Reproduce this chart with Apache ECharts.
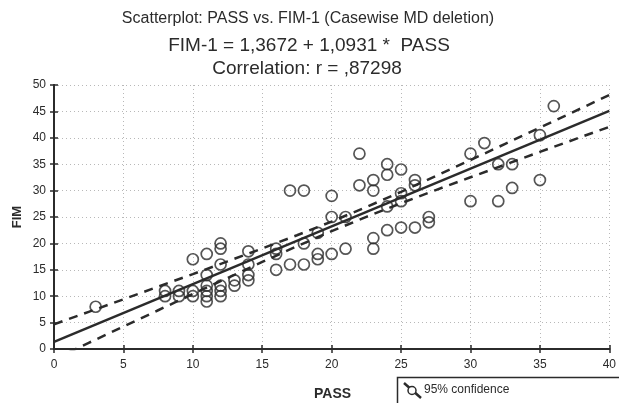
<!DOCTYPE html>
<html>
<head>
<meta charset="utf-8">
<script src="https://cdn.jsdelivr.net/npm/echarts@6/dist/echarts.min.js"></script>
<style>
html,body{margin:0;padding:0;background:#fff;}
#chart{width:619px;height:403px;}
</style>
</head>
<body>
<div id="chart"></div>
<script>
// PASS (x) values of the cases
const passValues = [3, 8, 8, 9, 9, 10, 10, 10, 11, 11, 11, 11, 11, 11, 12, 12, 12, 12, 12, 12,
  13, 13, 14, 14, 14, 14, 16, 16, 16, 17, 17, 18, 18, 18, 19, 19, 19, 20, 20, 20,
  21, 21, 22, 22, 23, 23, 23, 23, 24, 24, 24, 24, 25, 25, 25, 25, 26, 26, 26, 27, 27,
  30, 30, 31, 32, 32, 33, 33, 35, 35, 36];
// FIM (y) values of the cases
const fimValues = [8, 11, 10, 10, 11, 17, 11, 10, 18, 14, 12, 11, 10, 9, 20, 19, 16, 12, 11, 10,
  13, 12, 18.5, 16, 14, 13, 19, 18, 15, 30, 16, 30, 20, 16, 22, 18, 17, 29, 25, 18,
  25, 19, 37, 31, 32, 30, 21, 19, 35, 33, 27, 22.5, 34, 29.5, 28, 23, 32, 31, 23, 25, 24,
  37, 28, 39, 35, 28, 35, 30.5, 40.5, 32, 46];
// regression coefficients (from title)
const regIntercept = 1.3672;
const regSlope = 1.0931;
const regX = [0, 40];
// 95% confidence band
const bandX = [0, 2.5, 5, 7.5, 10, 12.5, 15, 17.5, 20, 22.5, 25, 27.5, 30, 32.5, 35, 37.5, 40];
const upperBand = [4.67, 7.04, 9.41, 11.80, 14.19, 16.60, 19.04, 21.54, 24.14, 26.89, 29.77, 32.76, 35.79, 38.85, 41.93, 45.01, 48.10];
const lowerBand = [-1.93, 1.16, 4.25, 7.34, 10.41, 13.46, 16.48, 19.46, 22.32, 25.03, 27.61, 30.10, 32.53, 34.93, 37.33, 39.71, 42.08];
// axis ticks
const xTicks = [0, 5, 10, 15, 20, 25, 30, 35, 40];
const yTicks = [0, 5, 10, 15, 20, 25, 30, 35, 40, 45, 50];

const titleLines = [
  'Scatterplot: PASS vs. FIM-1 (Casewise MD deletion)',
  'FIM-1 = 1,3672 + 1,0931 *  PASS',
  'Correlation: r = ,87298'
];

const font = 'Arial, "Liberation Sans", sans-serif';
const ink = '#2b2b2b';

const chart = echarts.init(document.getElementById('chart'), null, {renderer: 'canvas'});

const scatterData = passValues.map((x, i) => [x, fimValues[i]]);
const regData = regX.map(x => [x, regIntercept + regSlope * x]);
const upperData = bandX.map((x, i) => [x, upperBand[i]]);
const lowerData = bandX.map((x, i) => [x, lowerBand[i]]);

const grid = {left: 54, right: 7, top: 85, bottom: 54};
const xMin = xTicks[0], xMax = xTicks[xTicks.length - 1];
const yMin = yTicks[0], yMax = yTicks[yTicks.length - 1];

const baseAxis = {
  axisLine: {show: true, lineStyle: {color: ink, width: 2}},
  axisTick: {show: true, inside: true, length: 4, lineStyle: {color: ink, width: 1.5}},
  splitLine: {show: false}
};

chart.setOption({
  backgroundColor: '#ffffff',
  animation: false,
  title: [
    {text: titleLines[0], left: 303, top: 6, textAlign: 'center',
      textStyle: {fontFamily: font, fontSize: 16, fontWeight: 'normal', color: ink}},
    {text: titleLines[1], left: 304, top: 31, textAlign: 'center',
      textStyle: {fontFamily: font, fontSize: 19, fontWeight: 'normal', color: ink}},
    {text: titleLines[2], left: 302, top: 54, textAlign: 'center',
      textStyle: {fontFamily: font, fontSize: 19, fontWeight: 'normal', color: ink}}
  ],
  grid: grid,
  xAxis: [
    Object.assign({}, baseAxis, {
      type: 'value', position: 'bottom', min: xMin, max: xMax, interval: 5,
      axisLabel: {fontFamily: font, fontSize: 12, color: ink, margin: 10},
      splitLine: {show: true, lineStyle: {color: '#b8b8b8', type: [1, 3], width: 1}}
    }),
    Object.assign({}, baseAxis, {
      type: 'value', position: 'top', min: xMin, max: xMax, interval: 5,
      axisLabel: {show: false}
    })
  ],
  yAxis: [
    Object.assign({}, baseAxis, {
      type: 'value', position: 'left', min: yMin, max: yMax, interval: 5,
      axisLabel: {fontFamily: font, fontSize: 12, color: ink, margin: 8},
      splitLine: {show: true, lineStyle: {color: '#b8b8b8', type: [1, 3], width: 1}}
    }),
    Object.assign({}, baseAxis, {
      type: 'value', position: 'right', min: yMin, max: yMax, interval: 5,
      axisLabel: {show: false}
    })
  ],
  graphic: [
    {type: 'text', left: 314, top: 387,
      style: {text: 'PASS', font: 'bold 14px ' + font, fill: ink}},
    {type: 'text', x: 17, y: 217, rotation: Math.PI / 2,
      style: {text: 'FIM', font: 'bold 13px ' + font, fill: ink, align: 'center', verticalAlign: 'middle'}},
    {type: 'rect', shape: {x: 397.5, y: 377.5, width: 240, height: 40},
      style: {fill: '#fff', stroke: ink, lineWidth: 1.5}},
    {type: 'line', shape: {x1: 404, y1: 383, x2: 421, y2: 398},
      style: {stroke: ink, lineWidth: 2.5}},
    {type: 'circle', shape: {cx: 412, cy: 390.5, r: 4},
      style: {fill: '#fff', stroke: ink, lineWidth: 1.5}},
    {type: 'text', left: 424, top: 384,
      style: {text: '95% confidence', font: '12px ' + font, fill: ink}}
  ],
  series: [
    {type: 'line', data: upperData, smooth: false, symbol: 'none', clip: true,
      lineStyle: {color: ink, width: 2.5, type: [9, 7]}, z: 3},
    {type: 'line', data: lowerData, smooth: false, symbol: 'none', clip: true,
      lineStyle: {color: ink, width: 2.5, type: [9, 7]}, z: 3},
    {type: 'line', data: regData, symbol: 'none', clip: true,
      lineStyle: {color: ink, width: 2.5}, z: 4},
    {type: 'scatter', data: scatterData, symbol: 'circle', symbolSize: 11,
      itemStyle: {color: 'rgba(255,255,255,0)', borderColor: ink, borderWidth: 1.7}, z: 5}
  ]
});
</script>
</body>
</html>
